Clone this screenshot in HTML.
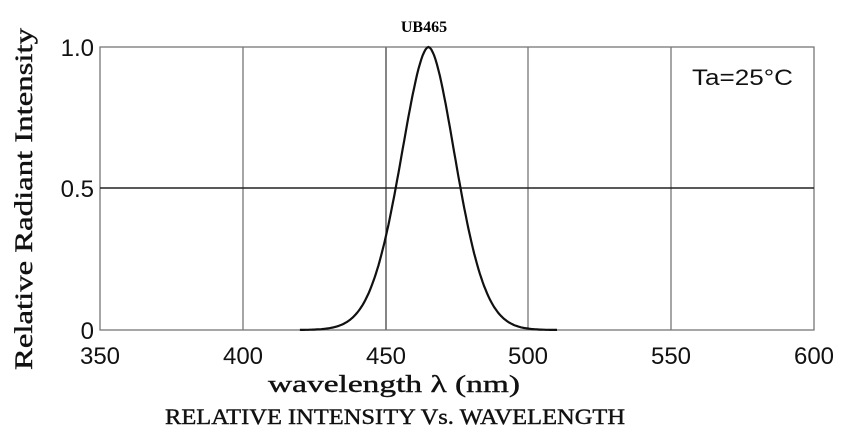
<!DOCTYPE html>
<html><head><meta charset="utf-8"><style>
html,body{margin:0;padding:0;background:#fff;width:864px;height:443px;overflow:hidden}
</style></head><body>
<svg width="864" height="443" xmlns="http://www.w3.org/2000/svg">
<g stroke="#777" stroke-width="1.3" fill="none">
<line x1="243" y1="47" x2="243" y2="330"/>
<line x1="386" y1="47" x2="386" y2="330" stroke="#444"/>
<line x1="528" y1="47" x2="528" y2="330"/>
<line x1="671" y1="47" x2="671" y2="330"/>
<rect x="100" y="47" width="714" height="283"/>
</g>
<line x1="100" y1="188" x2="814" y2="188" stroke="#222" stroke-width="1.5"/>
<path id="c" fill="none" stroke="#111" stroke-width="2.2"/>
<g font-family="Liberation Sans, sans-serif" font-size="24" fill="#111">
<text x="94" y="56" text-anchor="end">1.0</text>
<text x="94" y="197" text-anchor="end">0.5</text>
<text x="94" y="339" text-anchor="end">0</text>
<text x="100" y="364" text-anchor="middle">350</text>
<text x="243" y="364" text-anchor="middle">400</text>
<text x="386" y="364" text-anchor="middle">450</text>
<text x="528" y="364" text-anchor="middle">500</text>
<text x="671" y="364" text-anchor="middle">550</text>
<text x="814" y="364" text-anchor="middle">600</text>
<text x="692" y="85" font-size="22" textLength="101" lengthAdjust="spacingAndGlyphs">Ta=25°C</text>
</g>
<text x="424" y="32" text-anchor="middle" font-family="Liberation Serif, serif" font-weight="bold" font-size="16">UB465</text>
<text transform="translate(32,370) rotate(-90)" font-family="Liberation Serif, serif" font-size="25" fill="#111" stroke="#111" stroke-width="0.4" textLength="342" lengthAdjust="spacingAndGlyphs">Relative  Radiant  Intensity</text>
<text x="268" y="392" font-family="Liberation Serif, serif" font-size="24" fill="#111" stroke="#111" stroke-width="0.4" textLength="252" lengthAdjust="spacingAndGlyphs">wavelength  λ  (nm)</text>
<text x="165" y="424" font-family="Liberation Serif, serif" font-size="22" fill="#111" stroke="#111" stroke-width="0.4" textLength="460" lengthAdjust="spacingAndGlyphs">RELATIVE  INTENSITY  Vs.  WAVELENGTH</text>
</svg>
<script>
var d="";for(var w=420;w<=510;w+=0.5){var a=w<465?14.1:13.8;var v=Math.exp(-Math.pow(Math.abs(w-465)/a,1.8));var x=100+(w-350)*2.856,y=330-v*283;d+=(d?"L":"M")+x.toFixed(1)+" "+y.toFixed(1);}
document.getElementById("c").setAttribute("d",d);
</script>
</body></html>
